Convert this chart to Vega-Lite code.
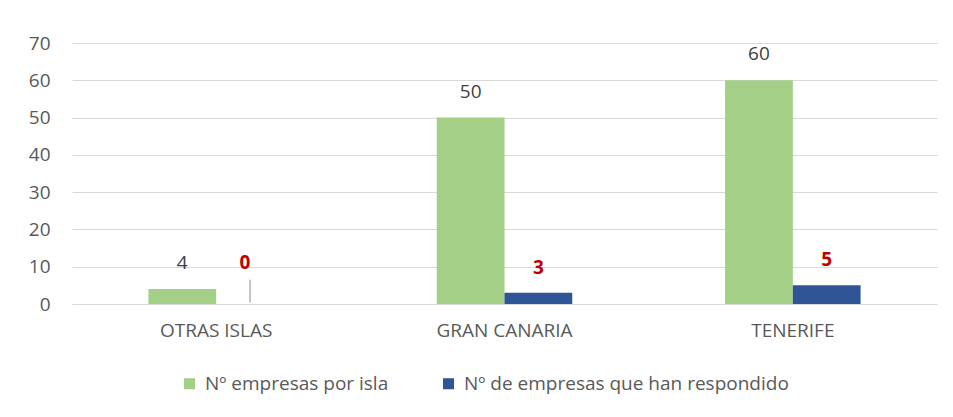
{
  "$schema": "https://vega.github.io/schema/vega-lite/v6.json",
  "autosize": "none",
  "width": 865,
  "height": 261,
  "padding": {"left": 72, "top": 43, "right": 16, "bottom": 113},
  "background": "white",
  "config": {
    "font": "Open Sans",
    "view": {"stroke": null},
    "axis": {"labelFont": "Open Sans", "labelColor": "#595959", "labelFontSize": 19}
  },
  "data": {
    "values": [
      {"isla": "OTRAS ISLAS", "serie": "Nº empresas por isla", "valor": 4},
      {"isla": "OTRAS ISLAS", "serie": "Nº de empresas que han respondido", "valor": 0},
      {"isla": "GRAN CANARIA", "serie": "Nº empresas por isla", "valor": 50},
      {"isla": "GRAN CANARIA", "serie": "Nº de empresas que han respondido", "valor": 3},
      {"isla": "TENERIFE", "serie": "Nº empresas por isla", "valor": 60},
      {"isla": "TENERIFE", "serie": "Nº de empresas que han respondido", "valor": 5}
    ]
  },
  "encoding": {
    "x": {
      "field": "isla", "type": "nominal",
      "sort": ["OTRAS ISLAS", "GRAN CANARIA", "TENERIFE"],
      "scale": {"paddingInner": 0.53, "paddingOuter": 0.265},
      "axis": {"title": null, "labelAngle": 0, "ticks": false, "domainColor": "#d9d9d9", "labelPadding": 17, "labelFontSize": 19}
    },
    "xOffset": {
      "field": "serie", "type": "nominal",
      "sort": ["Nº empresas por isla", "Nº de empresas que han respondido"]
    },
    "y": {
      "field": "valor", "type": "quantitative",
      "scale": {"domain": [0, 70]},
      "axis": {"title": null, "values": [0, 10, 20, 30, 40, 50, 60, 70], "domain": false, "ticks": false, "gridColor": "#d9d9d9", "labelPadding": 22, "labelFontSize": 19}
    }
  },
  "layer": [
    {
      "mark": {"type": "bar"},
      "encoding": {
        "color": {
          "field": "serie", "type": "nominal",
          "sort": ["Nº empresas por isla", "Nº de empresas que han respondido"],
          "scale": {"domain": ["Nº empresas por isla", "Nº de empresas que han respondido"], "range": ["#a3cf87", "#2f5597"]},
          "legend": {
            "title": null, "orient": "none", "direction": "horizontal",
            "legendX": 108, "legendY": 331,
            "symbolType": "square", "symbolSize": 121, "symbolStrokeWidth": 0,
            "labelFont": "Open Sans", "labelFontSize": 19, "labelColor": "#595959",
            "labelLimit": 0, "columnPadding": 50, "labelOffset": 6
          }
        }
      }
    },
    {
      "transform": [{"filter": "datum.serie === 'Nº empresas por isla'"}],
      "mark": {"type": "text", "dy": -26, "fontSize": 19, "color": "#404040", "font": "Open Sans"},
      "encoding": {"text": {"field": "valor", "type": "quantitative"}}
    },
    {
      "transform": [{"filter": "datum.serie !== 'Nº empresas por isla' && datum.valor > 0"}],
      "mark": {"type": "text", "dy": -25, "fontSize": 19, "fontWeight": "bold", "color": "#c00000", "font": "Open Sans"},
      "encoding": {"text": {"field": "valor", "type": "quantitative"}}
    },
    {
      "transform": [{"filter": "datum.serie !== 'Nº empresas por isla' && datum.valor === 0"}],
      "mark": {"type": "text", "dy": -41, "dx": -5, "fontSize": 19, "fontWeight": "bold", "color": "#c00000", "font": "Open Sans"},
      "encoding": {"text": {"field": "valor", "type": "quantitative"}}
    },
    {
      "transform": [{"filter": "datum.serie !== 'Nº empresas por isla' && datum.valor === 0"}],
      "mark": {"type": "rule", "color": "#8c8c8c", "strokeWidth": 1},
      "encoding": {"y": {"datum": 0.4}, "y2": {"datum": 6.5}}
    }
  ]
}
